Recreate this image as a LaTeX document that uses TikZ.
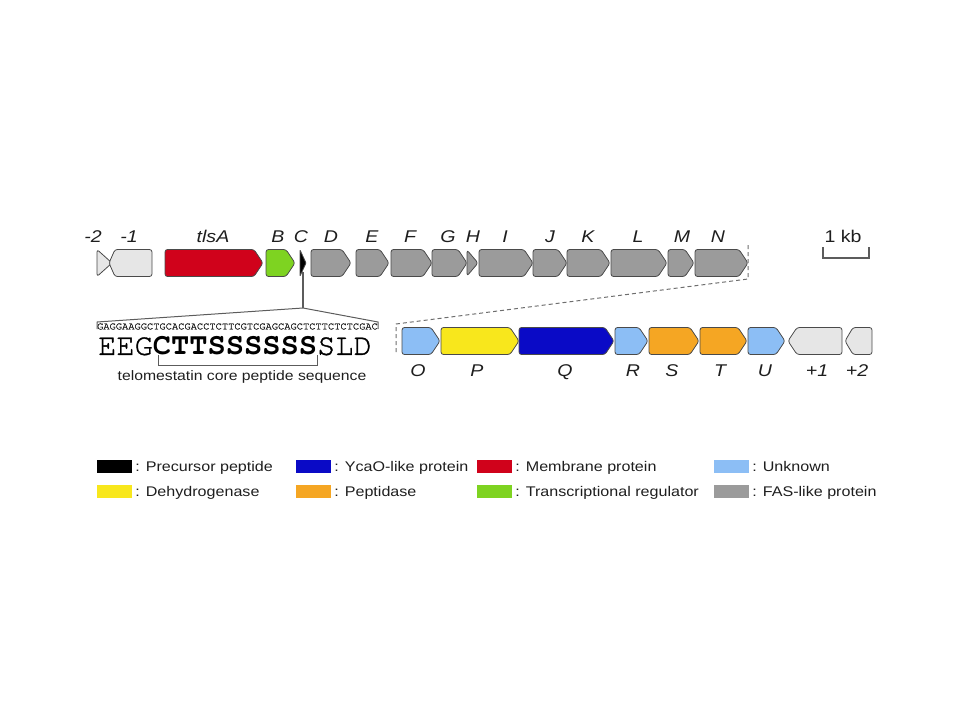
\documentclass[tikz,border=0pt]{standalone}
\usepackage{fontspec}
\setmainfont[FakeStretch=1.15]{Liberation Sans}
\newfontfamily\seqfont{texgyrecursor}[Extension=.otf,UprightFont=*-regular,BoldFont=*-bold,UprightFeatures={FakeBold=1.2}]
\usetikzlibrary{positioning}

\definecolor{membrane}{HTML}{D0021B}
\definecolor{regulator}{HTML}{7ED321}
\definecolor{faslike}{HTML}{9B9B9B}
\definecolor{flank}{HTML}{E6E6E6}
\definecolor{unknown}{HTML}{8CBEF5}
\definecolor{dehydro}{HTML}{F8E71C}
\definecolor{ycao}{HTML}{0A0AC6}
\definecolor{peptidase}{HTML}{F5A623}
\definecolor{edge}{HTML}{4A4A4A}
\definecolor{ink}{HTML}{1E1E1E}

% gene pointing right: name, start, end, middle, fill
\newcommand{\genefw}[5]{%
  \draw[gene,fill=#5] (#2,#4-13.5) -- (#3-9,#4-13.5) -- (#3,#4) -- (#3-9,#4+13.5) -- (#2,#4+13.5) -- cycle;
  \coordinate (#1) at ({(#2+#3)/2},#4);}
% gene pointing left
\newcommand{\generv}[6]{%
  \draw[gene,fill=#6] (#3,#4-13.5) -- (#2+#5,#4-13.5) -- (#2,#4) -- (#2+#5,#4+13.5) -- (#3,#4+13.5) -- cycle;
  \coordinate (#1) at ({(#2+#3)/2},#4);}

\begin{document}
\begin{tikzpicture}[x=1pt,y=-1pt,
    gene/.style={draw=edge,line width=0.8pt,rounded corners=2.5pt,line join=round},
    genelabel/.style={text=ink,inner sep=0pt,text height=12.2pt,text depth=0pt,font=\fontsize{17}{20}\selectfont\itshape},
    zoomline/.style={draw=edge!80,line width=1pt,dash pattern=on 4pt off 3pt},
    stalk/.style={draw=edge!90,line width=1.2pt},
    legkey/.style={minimum width=35pt,minimum height=13pt,inner sep=0pt},
    legtext/.style={text=ink,inner sep=1pt,text height=10pt,text depth=0pt,font=\fontsize{14}{16}\selectfont}]
    \useasboundingbox (0,0) rectangle (960,720);

    % upper row
    \draw[gene,fill=flank] (97,249.5) -- (112,263) -- (97,276.5) -- cycle;
    \coordinate (gm2) at (103,263);
    \generv{gm1}{109}{152}{263}{6}{flank}
    \genefw{gA}{165}{263}{263}{membrane}
    \genefw{gB}{266}{295}{263}{regulator}
    \draw[gene,fill=black,rounded corners=0.5pt] (300,250) -- (306,263) -- (300,276) -- cycle;
    \coordinate (gC) at (303,272);
    \genefw{gD}{311}{351}{263}{faslike}
    \genefw{gE}{356}{389}{263}{faslike}
    \genefw{gF}{391}{432}{263}{faslike}
    \genefw{gG}{432}{467}{263}{faslike}
    \draw[gene,fill=faslike] (467,250) -- (478,263) -- (467,276) -- cycle;
    \coordinate (gH) at (471,263);
    \genefw{gI}{479}{533}{263}{faslike}
    \genefw{gJ}{533}{567}{263}{faslike}
    \genefw{gK}{567}{610}{263}{faslike}
    \genefw{gL}{611}{667}{263}{faslike}
    \genefw{gM}{668}{694}{263}{faslike}
    \genefw{gN}{695}{748}{263}{faslike}

    \node[genelabel] (lm2) at (93,236) {-2};
    \node[genelabel] (lm1) at (129,236) {-1};
    \node[genelabel] (lA) at (213,236) {tlsA};
    \node[genelabel] (lB) at (278,236) {B};
    \node[genelabel] (lC) at (301,236) {C};
    \node[genelabel] (lD) at (331,236) {D};
    \node[genelabel] (lE) at (372,236) {E};
    \node[genelabel] (lF) at (410,236) {F};
    \node[genelabel] (lG) at (448,236) {G};
    \node[genelabel] (lH) at (473,236) {H};
    \node[genelabel] (lI) at (505,236) {I};
    \node[genelabel] (lJ) at (550,236) {J};
    \node[genelabel] (lK) at (588,236) {K};
    \node[genelabel] (lL) at (638,236) {L};
    \node[genelabel] (lM) at (682,236) {M};
    \node[genelabel] (lN) at (718,236) {N};

    % scale bar
    \node[genelabel,font=\fontsize{17}{20}\selectfont] (kb) at (843,236) {1 kb};
    \draw[stalk] (823,247) -- (823,258) -- (869,258) -- (869,247);

    % zoomed part
    \coordinate (zA) at (748,245);
    \coordinate (zB) at (748,279);
    \coordinate (zC) at (396,324);
    \coordinate (zD) at (396,355);
    \draw[zoomline] (zA) -- (zB) -- (zC) -- (zD);

    \genefw{gO}{402}{440}{341}{unknown}
    \genefw{gP}{441}{519}{341}{dehydro}
    \genefw{gQ}{519}{614}{341}{ycao}
    \genefw{gR}{615}{648}{341}{unknown}
    \genefw{gS}{649}{699}{341}{peptidase}
    \genefw{gT}{700}{747}{341}{peptidase}
    \genefw{gU}{748}{785}{341}{unknown}
    \generv{gp1}{788}{842}{341}{9}{flank}
    \generv{gp2}{845}{872}{341}{8}{flank}

    \node[genelabel] (lO) at (418,370) {O};
    \node[genelabel] (lP) at (477,370) {P};
    \node[genelabel] (lQ) at (565,370) {Q};
    \node[genelabel] (lR) at (633,370) {R};
    \node[genelabel] (lS) at (672,370) {S};
    \node[genelabel] (lT) at (720,370) {T};
    \node[genelabel] (lU) at (765,370) {U};
    \node[genelabel] (lp1) at (817,370) {+1};
    \node[genelabel] (lp2) at (857,370) {+2};

    % precursor peptide
    \coordinate (apex) at (303,308);
    \coordinate (brL) at (97,322);
    \coordinate (brR) at (378,322);
    \draw[stalk] (gC) -- (apex);
    \draw[stalk,line width=1pt] ([yshift=-7pt]brL) -- (brL) -- (apex) -- (brR) -- ([yshift=-7pt]brR);
    \node[inner sep=0pt,text=ink,font=\seqfont\fontsize{10.4}{12}\selectfont] (dna) at (237.5,326.5) {GAGGAAGGCTGCACGACCTCTTCGTCGAGCAGCTCTTCTCTCGAC};
    \node[inner sep=0pt,text=black,font=\seqfont\fontsize{30.4}{32}\selectfont] (pep) at (235,346) {EEG\textbf{CTTSSSSSS}SLD};
    \coordinate (coreL) at (158,355);
    \coordinate (coreR) at (317,355);
    \draw[stalk,line width=1pt] (coreL) -- ([yshift=-10pt]coreL) -- ([yshift=-10pt]coreR) -- (coreR);
    \node[anchor=base,inner sep=0pt,text=ink,font=\fontsize{13.7}{16}\selectfont] (core) at (242,380) {telomestatin core peptide sequence};

    % legend
    \node[legkey,fill=black] (kPrec) at (114.5,466.5) {};
    \node[legtext,right=2pt of kPrec] (tPrec) {: Precursor peptide};
    \node[legkey,fill=dehydro] (kDehy) at (114.5,491.5) {};
    \node[legtext,right=2pt of kDehy] (tDehy) {: Dehydrogenase};
    \node[legkey,fill=ycao] (kYcao) at (313.5,466.5) {};
    \node[legtext,right=2pt of kYcao] (tYcao) {: YcaO-like protein};
    \node[legkey,fill=peptidase] (kPept) at (313.5,491.5) {};
    \node[legtext,right=2pt of kPept] (tPept) {: Peptidase};
    \node[legkey,fill=membrane] (kMemb) at (494.5,466.5) {};
    \node[legtext,right=2pt of kMemb] (tMemb) {: Membrane protein};
    \node[legkey,fill=regulator] (kRegu) at (494.5,491.5) {};
    \node[legtext,right=2pt of kRegu] (tRegu) {: Transcriptional regulator};
    \node[legkey,fill=unknown] (kUnkn) at (731.5,466.5) {};
    \node[legtext,right=2pt of kUnkn] (tUnkn) {: Unknown};
    \node[legkey,fill=faslike] (kFasl) at (731.5,491.5) {};
    \node[legtext,right=2pt of kFasl] (tFasl) {: FAS-like protein};
\end{tikzpicture}
\end{document}
